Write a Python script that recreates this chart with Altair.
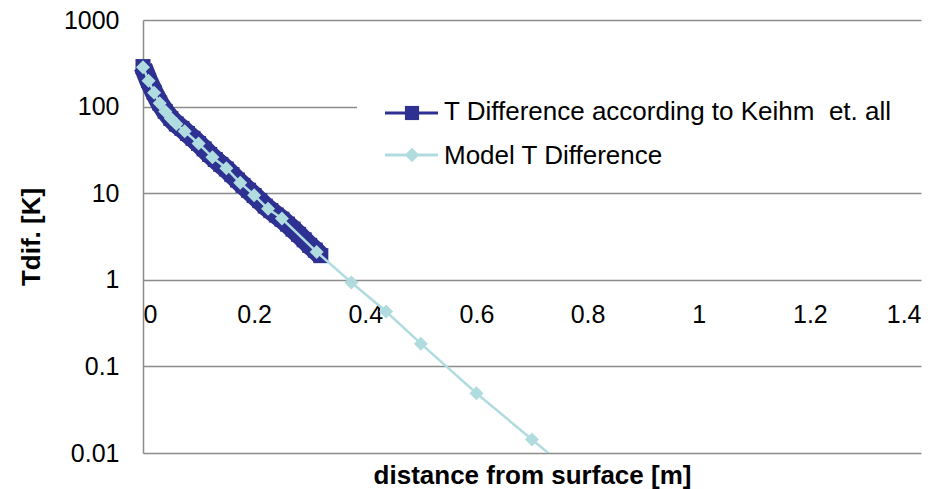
import altair as alt
import pandas as pd

# ---- data ----
keihm_x = [0.00, 0.01, 0.02, 0.03, 0.04, 0.05, 0.06, 0.07, 0.08, 0.09, 0.10,
           0.11, 0.12, 0.13, 0.14, 0.15, 0.16, 0.17, 0.18, 0.19, 0.20, 0.21,
           0.22, 0.23, 0.24, 0.25, 0.26, 0.27, 0.28, 0.29, 0.30, 0.31, 0.32]
keihm_t = [290, 200, 146, 110, 88, 73, 63, 56, 49, 43, 37.5,
           32.5, 28, 24.5, 21.5, 19, 16.4, 14.2, 12.3, 10.8, 9.4, 8.2,
           7.1, 6.3, 5.6, 5.0, 4.4, 3.85, 3.35, 2.9, 2.5, 2.2, 1.9]

model_x = [0.0, 0.01, 0.02, 0.03, 0.04, 0.05, 0.06, 0.075, 0.1, 0.125, 0.15,
           0.175, 0.2, 0.225, 0.25, 0.3125, 0.375, 0.4375, 0.5, 0.6, 0.7, 0.8]
model_t = [284, 199, 145, 109, 88, 73, 63, 52, 37.5, 26, 19.4,
           13.2, 9.5, 6.6, 5.1, 2.1, 0.93, 0.43, 0.183, 0.049, 0.0143, 0.0042]

x_ticks = [0, 0.2, 0.4, 0.6, 0.8, 1.0, 1.2, 1.4]
y_ticks = [0.01, 0.1, 1, 10, 100, 1000]
legend_labels = ["T Difference according to Keihm\u00a0 et. all", "Model T Difference"]

DARK = "#2E3192"
LIGHT = "#B0DCE0"
GRID = "#8C8C8C"
FONT = "Liberation Sans"

keihm = pd.DataFrame({"x": keihm_x, "t": keihm_t})
model = pd.DataFrame({"x": model_x, "t": model_t})
leg1 = pd.DataFrame({"label": [legend_labels[0]]})
leg2 = pd.DataFrame({"label": [legend_labels[1]]})

xs = alt.Scale(domain=[0, 1.4], nice=False)
ys = alt.Scale(type="log", domain=[0.01, 1000], nice=False)

xaxis = alt.Axis(values=x_ticks, format="~g", title="distance from surface [m]",
                 grid=False, domain=False, ticks=False, offset=-173,
                 labelPadding=42, labelBaseline="alphabetic",
                 titleX=389, titleY=203, titleBaseline="alphabetic")
yaxis = alt.Axis(values=y_ticks, format="~g", title="Tdif. [K]",
                 grid=True, gridColor=GRID, gridWidth=1.5,
                 domain=True, domainColor=GRID, domainWidth=1.5,
                 ticks=False, labelPadding=24,
                 titleX=-112, titleY=216.5, titleAngle=270,
                 titleBaseline="middle", titleAlign="center")

X = alt.X("x:Q", scale=xs, axis=xaxis)
Y = alt.Y("t:Q", scale=ys, axis=yaxis)

k_line = alt.Chart(keihm).mark_line(color=DARK, strokeWidth=19, strokeJoin="round",
                                    strokeCap="butt").encode(x=X, y=Y)
k_pts = alt.Chart(keihm).mark_point(shape="square", filled=True, size=225,
                                    color=DARK, opacity=1).encode(x=X, y=Y)
m_line = alt.Chart(model).mark_line(color=LIGHT, strokeWidth=2.5, clip=True).encode(x=X, y=Y)
m_pts = alt.Chart(model).transform_filter("datum.t >= 0.01").mark_point(
    shape="diamond", filled=True, size=196, color=LIGHT, opacity=1).encode(x=X, y=Y)

# ---- legend ----
leg_bg = alt.Chart(leg1).mark_rect(color="white").encode(
    x=alt.value(214), x2=alt.value(790), y=alt.value(72), y2=alt.value(162))
leg_r1 = alt.Chart(leg1).mark_rule(color=DARK, strokeWidth=3).encode(
    x=alt.value(242), x2=alt.value(295), y=alt.value(93))
leg_p1 = alt.Chart(leg1).mark_point(shape="square", filled=True, size=200,
                                    color=DARK, opacity=1).encode(
    x=alt.value(269), y=alt.value(93))
leg_t1 = alt.Chart(leg1).mark_text(align="left", baseline="alphabetic",
                                   fontSize=26, font=FONT, color="black").encode(
    x=alt.value(301), y=alt.value(99.5), text="label:N")
leg_r2 = alt.Chart(leg2).mark_rule(color=LIGHT, strokeWidth=3).encode(
    x=alt.value(242), x2=alt.value(295), y=alt.value(135))
leg_p2 = alt.Chart(leg2).mark_point(shape="diamond", filled=True, size=210,
                                    color=LIGHT, opacity=1).encode(
    x=alt.value(269), y=alt.value(135))
leg_t2 = alt.Chart(leg2).mark_text(align="left", baseline="alphabetic",
                                   fontSize=26, font=FONT, color="black").encode(
    x=alt.value(301), y=alt.value(144), text="label:N")

chart = alt.layer(
    k_line, k_pts, m_line, m_pts,
    leg_bg, leg_r1, leg_p1, leg_t1, leg_r2, leg_p2, leg_t2
).properties(
    width=778, height=433,
    autosize=alt.AutoSizeParams(type="none"),
    padding={"left": 135, "top": 12, "right": 20, "bottom": 36},
    background="white",
).configure_view(stroke=None).configure_axis(
    labelFont=FONT, labelFontSize=25, labelColor="black",
    titleFont=FONT, titleFontSize=26, titleFontWeight="bold", titleColor="black",
)

chart.save("out.html", embed_options={"renderer": "svg", "actions": False})
